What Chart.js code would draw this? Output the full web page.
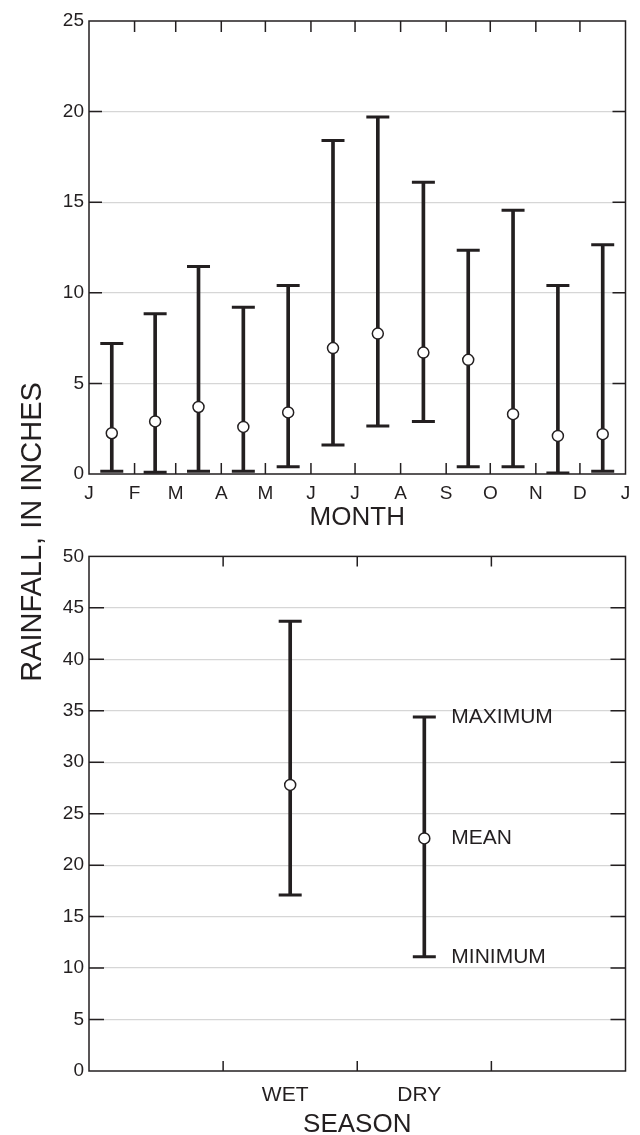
<!DOCTYPE html>
<html>
<head>
<meta charset="utf-8">
<script src="https://cdn.jsdelivr.net/npm/chart.js@4.4.1/dist/chart.umd.min.js"></script>
<style>
  html, body { margin: 0; padding: 0; background: #fff; overflow: hidden; }
  #wrap { position: relative; width: 640px; height: 1135px; }
  canvas { position: absolute; left: 0; }
  #monthChart { top: 0; }
  #seasonChart { top: 540px; }
  #ytitle {
    position: absolute; left: -170px; top: 517px; width: 400px; height: 30px;
    line-height: 30px; text-align: center; transform: rotate(-90deg);
    font: 29px 'Liberation Sans', Arial, sans-serif; color: #231f20;
  }
</style>
</head>
<body>
<div id="wrap">
  <canvas id="monthChart" width="640" height="540"></canvas>
  <canvas id="seasonChart" width="640" height="595"></canvas>
  <div id="ytitle">RAINFALL, IN INCHES</div>
</div>
<script>
// monthly rainfall, inches (x = day of year)
let monthLetters = ['J', 'F', 'M', 'A', 'M', 'J', 'J', 'A', 'S', 'O', 'N', 'D', 'J'];
let monthStarts = [0, 31, 59, 90, 120, 151, 181, 212, 243, 273, 304, 334, 365];
let monthMid = [15.5, 45, 74.5, 105, 135.5, 166, 196.5, 227.5, 258, 288.5, 319, 349.5];
let monthMax = [7.2, 8.85, 11.45, 9.2, 10.4, 18.4, 19.7, 16.1, 12.35, 14.55, 10.4, 12.65];
let monthMin = [0.15, 0.1, 0.15, 0.15, 0.4, 1.6, 2.65, 2.9, 0.4, 0.4, 0.05, 0.15];
let monthMean = [2.25, 2.9, 3.7, 2.6, 3.4, 6.95, 7.75, 6.7, 6.3, 3.3, 2.1, 2.2];
let monthTicksY = [0, 5, 10, 15, 20, 25];

// seasonal rainfall
let seasons = ['WET', 'DRY'];
let seasonPos = [1.5, 2.5];
let seasonTicks = [1, 2, 3];
let seasonMax = [43.7, 34.4];
let seasonMin = [17.1, 11.1];
let seasonMean = [27.8, 22.6];
let seasonTicksY = [0, 5, 10, 15, 20, 25, 30, 35, 40, 45, 50];
let keyLabels = ['MAXIMUM', 'MEAN', 'MINIMUM'];

const ink = '#231f20';
const gridGray = '#d6d6d6';
Chart.defaults.font.family = "'Liberation Sans', Arial, sans-serif";
Chart.defaults.color = ink;

// box around plot with inward tick marks
const framePlugin = {
  id: 'frame',
  beforeDatasetsDraw(chart, args, opts) {
    const {ctx, chartArea: a, scales: {x, y}} = chart;
    ctx.save();
    ctx.strokeStyle = ink;
    ctx.lineWidth = 1.5;
    ctx.beginPath();
    y.ticks.forEach(t => {
      if (t.value <= y.min || t.value >= y.max) return;
      const py = y.getPixelForValue(t.value);
      ctx.moveTo(a.left, py); ctx.lineTo(a.left + opts.yLen, py);
      ctx.moveTo(a.right, py); ctx.lineTo(a.right - opts.yLen, py);
    });
    opts.xTicks.forEach(v => {
      if (v <= x.min || v >= x.max) return;
      const px = x.getPixelForValue(v);
      ctx.moveTo(px, a.top); ctx.lineTo(px, a.top + opts.xLen);
      ctx.moveTo(px, a.bottom); ctx.lineTo(px, a.bottom - opts.xLen);
    });
    ctx.stroke();
    ctx.strokeRect(a.left, a.top, a.right - a.left, a.bottom - a.top);
    ctx.restore();
  }
};

// MAXIMUM / MEAN / MINIMUM next to the DRY bar
const keyPlugin = {
  id: 'key',
  afterDatasetsDraw(chart) {
    const {ctx, scales: {x, y}} = chart;
    const i = 1;
    const px = x.getPixelForValue(seasonPos[i]) + 27;
    ctx.save();
    ctx.fillStyle = ink;
    ctx.font = "21px 'Liberation Sans', Arial, sans-serif";
    ctx.textBaseline = 'middle';
    [seasonMax[i], seasonMean[i], seasonMin[i]].forEach((v, k) => {
      ctx.fillText(keyLabels[k], px, y.getPixelForValue(v));
    });
    ctx.restore();
  }
};

function errorSets(xs, mins, maxs, means) {
  let caps = xs.map((x, i) => ({x: x, y: maxs[i]})).concat(xs.map((x, i) => ({x: x, y: mins[i]})));
  return [
    {
      type: 'scatter', order: 0,
      data: xs.map((x, i) => ({x: x, y: means[i]})),
      pointStyle: 'circle', pointRadius: 5.5,
      pointBackgroundColor: '#fff', pointBorderColor: ink, pointBorderWidth: 1.5
    },
    {
      type: 'scatter', order: 1,
      data: caps,
      pointStyle: 'line', pointRadius: 11.5,
      pointBorderColor: ink, pointBorderWidth: 3
    },
    {
      type: 'bar', order: 2,
      data: xs.map((x, i) => ({x: x, y: [mins[i], maxs[i]]})),
      backgroundColor: ink, barThickness: 3, borderWidth: 0
    }
  ];
}

function yAxis(ticksY, max) {
  return {
    type: 'linear', min: 0, max: max,
    afterBuildTicks: s => { s.ticks = ticksY.map(v => ({value: v})); },
    afterFit: s => { s.width = 89; },
    ticks: {font: {size: 19}, padding: 5, color: ink},
    grid: {
      drawTicks: false,
      color: c => (c.tick.value <= 0 || c.tick.value >= max) ? 'rgba(0,0,0,0)' : gridGray,
      lineWidth: 1.3
    },
    border: {display: false}
  };
}

let config1 = {
  type: 'bar',
  data: {datasets: errorSets(monthMid, monthMin, monthMax, monthMean)},
  options: {
    responsive: false,
    animation: false,
    layout: {padding: {top: 21, right: 6, left: 0, bottom: 0}},
    plugins: {
      legend: {display: false},
      tooltip: {enabled: false},
      frame: {xTicks: monthStarts, yLen: 13, xLen: 11}
    },
    scales: {
      x: {
        type: 'linear', min: 0, max: 365, offset: false,
        afterBuildTicks: s => { s.ticks = monthStarts.map(v => ({value: v})); },
        afterFit: s => { s.height = 66; },
        ticks: {
          autoSkip: false, maxRotation: 0, minRotation: 0, padding: 8,
          font: {size: 19}, color: ink,
          callback: (v, i) => monthLetters[i]
        },
        grid: {display: false, offset: false, drawTicks: false},
        border: {display: false},
        title: {display: true, text: 'MONTH', color: ink, font: {size: 26}, padding: {top: 0, bottom: 7}}
      },
      y: yAxis(monthTicksY, 25)
    }
  },
  plugins: [framePlugin]
};

let config2 = {
  type: 'bar',
  data: {datasets: errorSets(seasonPos, seasonMin, seasonMax, seasonMean)},
  options: {
    responsive: false,
    animation: false,
    layout: {padding: {top: 15, right: 7, left: 0, bottom: 0}},
    plugins: {
      legend: {display: false},
      tooltip: {enabled: false},
      frame: {xTicks: seasonTicks, yLen: 15, xLen: 10}
    },
    scales: {
      x: {
        type: 'linear', min: 0, max: 4, offset: false,
        afterBuildTicks: s => { s.ticks = seasonPos.map(v => ({value: v})); },
        afterFit: s => { s.height = 64; },
        ticks: {
          autoSkip: false, maxRotation: 0, minRotation: 0, padding: 12, labelOffset: -5,
          font: {size: 21}, color: ink,
          callback: (v, i) => seasons[i]
        },
        grid: {display: false, offset: false, drawTicks: false},
        border: {display: false},
        title: {display: true, text: 'SEASON', color: ink, font: {size: 26, lineHeight: 0.75}, padding: {top: 0, bottom: 0}}
      },
      y: yAxis(seasonTicksY, 50)
    }
  },
  plugins: [framePlugin, keyPlugin]
};

let chart1 = new Chart(document.getElementById('monthChart'), config1);
let chart2 = new Chart(document.getElementById('seasonChart'), config2);
</script>
</body>
</html>
